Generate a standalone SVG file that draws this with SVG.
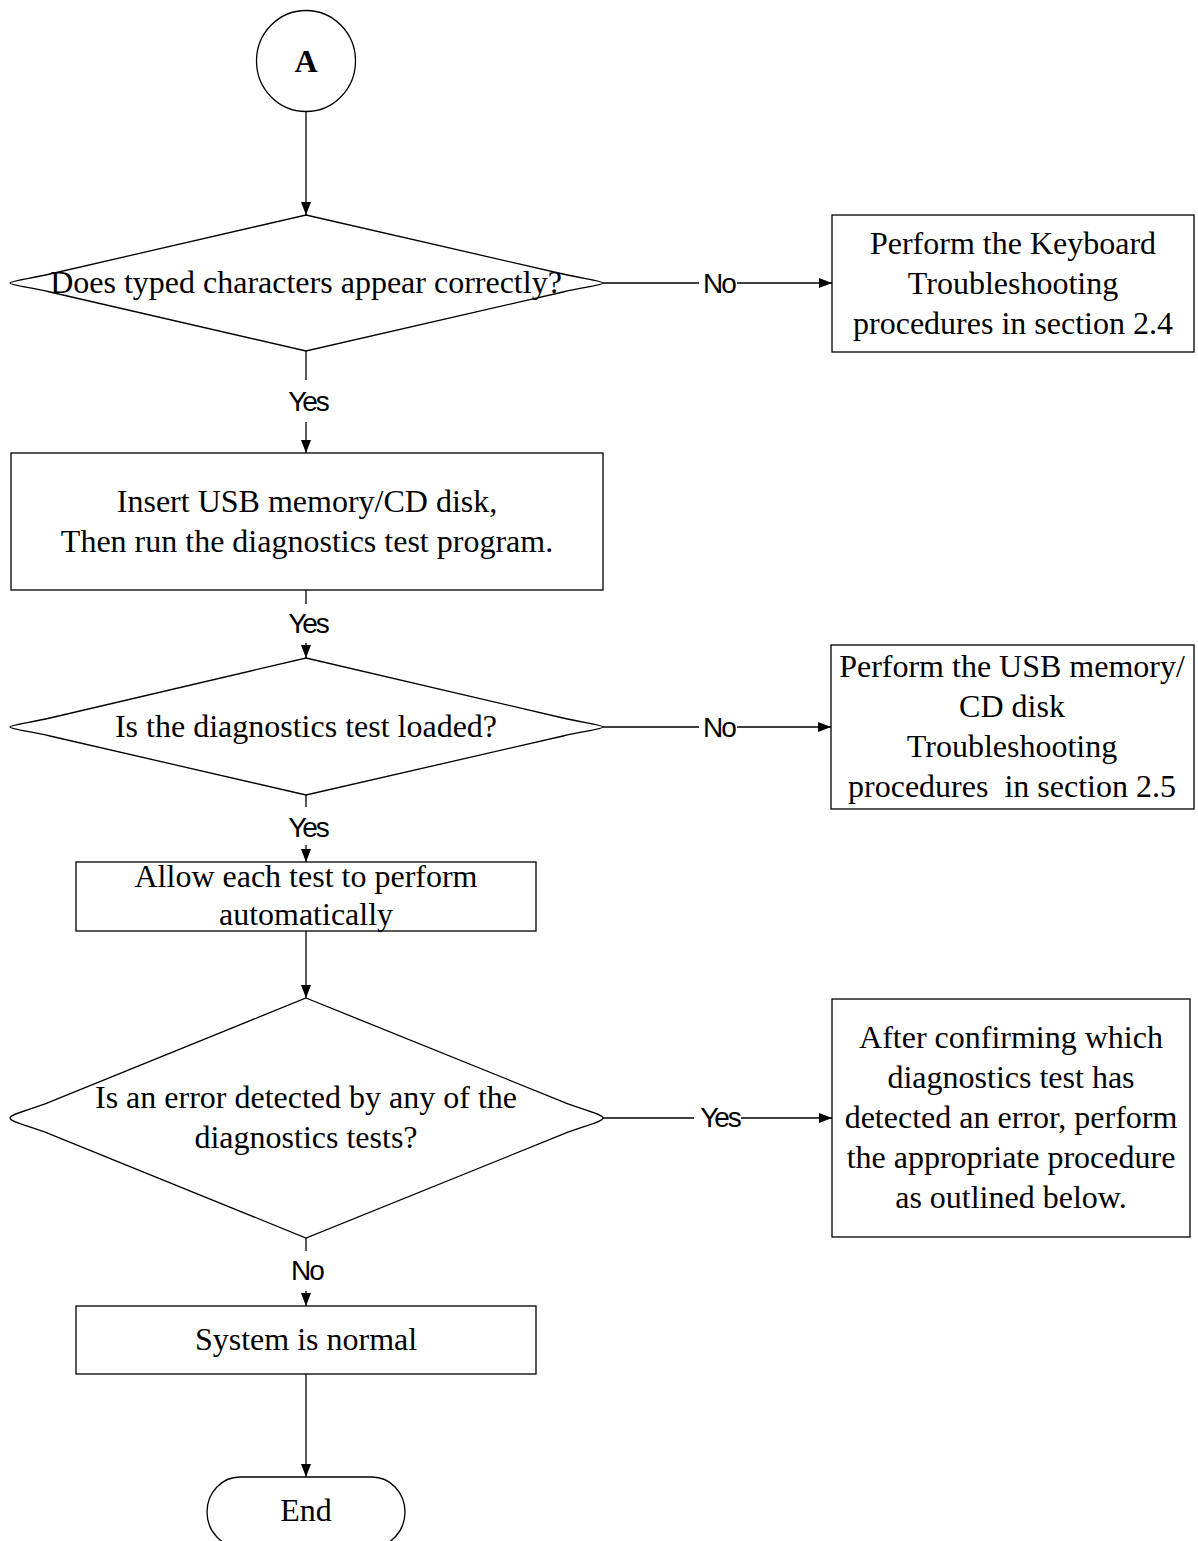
<svg xmlns="http://www.w3.org/2000/svg" width="1198" height="1541" viewBox="0 0 1198 1541">
<style>
.shape{fill:#fff;stroke:#000;stroke-width:1.3}
.t{font-family:"Liberation Serif","Times New Roman",serif;font-size:32px;fill:#000;text-anchor:middle}
.b{font-weight:bold;font-size:32px}
.lbl{font-family:"Liberation Sans",Arial,sans-serif;font-size:28px;fill:#000;text-anchor:middle;letter-spacing:-2px}
.c{fill:none;stroke:#000;stroke-width:1.3}
</style>
<defs>
<marker id="ah" markerUnits="userSpaceOnUse" markerWidth="14" markerHeight="11" refX="13" refY="5" orient="auto">
<path d="M0,0 L13,5 L0,10 Z" fill="#000"/>
</marker>
</defs>
<rect width="1198" height="1541" fill="#fff"/>

<g id="connectors">
<line class="c" x1="306" y1="112" x2="306" y2="215" marker-end="url(#ah)"/>
<line class="c" x1="603" y1="283" x2="699" y2="283"/>
<line class="c" x1="737" y1="283" x2="832" y2="283" marker-end="url(#ah)"/>
<text class="lbl" x="719" y="293">No</text>
<line class="c" x1="306" y1="351" x2="306" y2="380"/>
<text class="lbl" x="308" y="411">Yes</text>
<line class="c" x1="306" y1="422" x2="306" y2="453" marker-end="url(#ah)"/>
<line class="c" x1="306" y1="590" x2="306" y2="604"/>
<text class="lbl" x="308" y="633">Yes</text>
<line class="c" x1="306" y1="643" x2="306" y2="658" marker-end="url(#ah)"/>
<line class="c" x1="603" y1="727" x2="699" y2="727"/>
<line class="c" x1="737" y1="727" x2="831" y2="727" marker-end="url(#ah)"/>
<text class="lbl" x="719" y="737">No</text>
<line class="c" x1="306" y1="795" x2="306" y2="807"/>
<text class="lbl" x="308" y="837">Yes</text>
<line class="c" x1="306" y1="845" x2="306" y2="862" marker-end="url(#ah)"/>
<line class="c" x1="306" y1="931" x2="306" y2="998" marker-end="url(#ah)"/>
<line class="c" x1="603" y1="1118" x2="694" y2="1118"/>
<line class="c" x1="741" y1="1118" x2="832" y2="1118" marker-end="url(#ah)"/>
<text class="lbl" x="720" y="1127">Yes</text>
<line class="c" x1="306" y1="1238" x2="306" y2="1251"/>
<text class="lbl" x="307" y="1280">No</text>
<line class="c" x1="306" y1="1291" x2="306" y2="1306" marker-end="url(#ah)"/>
<line class="c" x1="306" y1="1374" x2="306" y2="1477" marker-end="url(#ah)"/>
</g>

<g id="start">
<ellipse class="shape" cx="306" cy="61" rx="49.5" ry="50.5"/>
<text class="t b" x="306" y="72">A</text>
</g>

<g id="d1">
<path class="shape" d="M306,215 L563,274 C583,278.6 603,281 603,283 C603,285 583,287.4 563,292 L306,351 L50,292 C30,287.4 10,285 10,283 C10,281 30,278.6 50,274 Z"/>
<text class="t" x="306" y="293">Does typed characters appear correctly?</text>
</g>

<g id="box1">
<rect class="shape" x="832" y="215" width="362" height="137"/>
<text class="t" x="1013" y="254">Perform the Keyboard</text>
<text class="t" x="1013" y="294">Troubleshooting</text>
<text class="t" x="1013" y="334">procedures in section 2.4</text>
</g>

<g id="box2">
<rect class="shape" x="11" y="453" width="592" height="137"/>
<text class="t" x="307" y="512">Insert USB memory/CD disk,</text>
<text class="t" x="307" y="552">Then run the diagnostics test program.</text>
</g>

<g id="d2">
<path class="shape" d="M306,658 L563,718 C583,722.6 603,725 603,727 C603,729 583,731.4 563,736 L306,795 L50,736 C30,731.4 10,729 10,727 C10,725 30,722.6 50,718 Z"/>
<text class="t" x="306" y="737">Is the diagnostics test loaded?</text>
</g>

<g id="box3">
<rect class="shape" x="831" y="645" width="363" height="164"/>
<text class="t" x="1012" y="677">Perform the USB memory/</text>
<text class="t" x="1012" y="717">CD disk</text>
<text class="t" x="1012" y="757">Troubleshooting</text>
<text class="t" x="1012" y="797" xml:space="preserve">procedures  in section 2.5</text>
</g>

<g id="box4">
<rect class="shape" x="76" y="862" width="460" height="69"/>
<text class="t" x="306" y="887">Allow each test to perform</text>
<text class="t" x="306" y="925">automatically</text>
</g>

<g id="d3">
<path class="shape" d="M306,998 L563,1101.8 C583,1109.9 603,1114 603,1118 C603,1122 583,1126.1 563,1134.2 L306,1238 L50,1134.2 C30,1126.1 10,1122 10,1118 C10,1114 30,1109.9 50,1101.8 Z"/>
<text class="t" x="306" y="1108">Is an error detected by any of the</text>
<text class="t" x="306" y="1148">diagnostics tests?</text>
</g>

<g id="box5">
<rect class="shape" x="832" y="999" width="358" height="238"/>
<text class="t" x="1011" y="1048">After confirming which</text>
<text class="t" x="1011" y="1088">diagnostics test has</text>
<text class="t" x="1011" y="1128">detected an error, perform</text>
<text class="t" x="1011" y="1168">the appropriate procedure</text>
<text class="t" x="1011" y="1208">as outlined below.</text>
</g>

<g id="box6">
<rect class="shape" x="76" y="1306" width="460" height="68"/>
<text class="t" x="306" y="1350">System is normal</text>
</g>

<g id="end">
<rect class="shape" x="207" y="1477" width="198" height="70" rx="33" ry="35"/>
<text class="t" x="306" y="1521">End</text>
</g>
</svg>
